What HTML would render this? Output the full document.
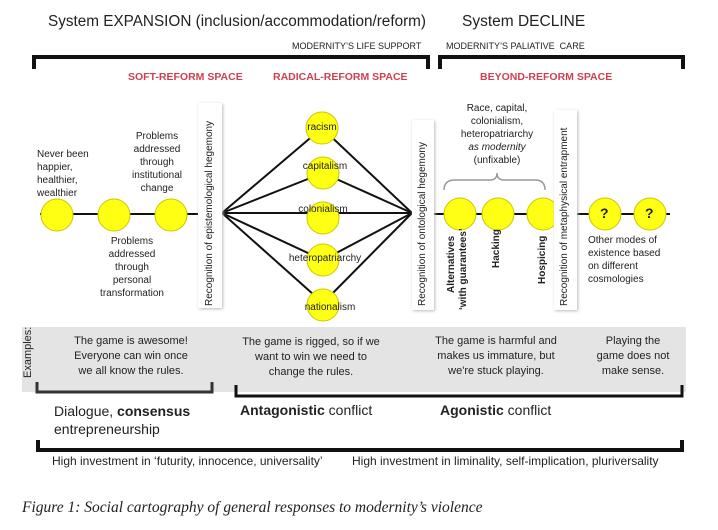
<!DOCTYPE html>
<html><head><meta charset="utf-8"><style>
body{margin:0;background:#fff;}
#c{position:relative;width:718px;height:530px;overflow:hidden;font-family:"Liberation Sans",sans-serif;color:#222;}
.t{position:absolute;white-space:nowrap;}
.cen{text-align:center;transform:translateX(-50%);}
.s{font-size:10px;line-height:13px;}
.red{color:#d0404f;font-weight:bold;font-size:10.5px;}
.bar{position:absolute;background:#fff;box-shadow:1px 1px 3px #bbb;}
.vt{position:absolute;transform:rotate(-90deg);transform-origin:0 0;white-space:nowrap;font-size:10px;line-height:12px;}
</style></head><body><div id="c">
<svg width="718" height="530" style="position:absolute;left:0;top:0">
<g fill="none" stroke="#111" stroke-width="4">
<path d="M34 69 V57 H428 V69"/>
<path d="M440 69 V57 H683 V69"/>
</g>
<rect x="22" y="327" width="664" height="65" fill="#e4e4e4"/>
<g fill="none" stroke="#111" stroke-width="3">
<path d="M37 382 V392 H212 V382" stroke="#333"/>
<path d="M236 385 V396 H682 V385"/>
<path d="M38 440 V450 H682 V440" stroke-width="4"/>
</g>
<g stroke="#111" stroke-width="2">
<line x1="40" y1="214" x2="200" y2="214"/>
<line x1="222" y1="213" x2="412" y2="213"/>
<line x1="222" y1="213" x2="322" y2="128"/>
<line x1="222" y1="213" x2="323" y2="173"/>
<line x1="222" y1="213" x2="323" y2="260"/>
<line x1="222" y1="213" x2="323" y2="303"/>
<line x1="322" y1="128" x2="412" y2="213"/>
<line x1="323" y1="173" x2="412" y2="213"/>
<line x1="323" y1="260" x2="412" y2="213"/>
<line x1="323" y1="303" x2="412" y2="213"/>
<line x1="433" y1="214" x2="556" y2="214"/>
<line x1="577" y1="214" x2="670" y2="214"/>
</g>
<path d="M444 190 Q444 180 455 180 H490 Q497 180 497 173 Q497 180 504 180 H535 Q545 180 545 190" fill="none" stroke="#999" stroke-width="1.5"/>
<g fill="#ffff14" stroke="#c8c800" stroke-width="1">
<circle cx="57" cy="215" r="16"/><circle cx="114" cy="215" r="16"/><circle cx="171" cy="215" r="16"/>
<circle cx="322" cy="128" r="16"/><circle cx="323" cy="173" r="16"/><circle cx="323" cy="218" r="16"/><circle cx="323" cy="260" r="16"/><circle cx="323" cy="305" r="16"/>
<circle cx="460" cy="214" r="16"/><circle cx="498" cy="214" r="16"/><circle cx="543" cy="214" r="16"/>
<circle cx="605" cy="214" r="16"/><circle cx="650" cy="214" r="16"/>
</g>
</svg>
<div class="t" style="left:48px;top:13px;font-size:15.3px">System EXPANSION (inclusion/accommodation/reform)</div>
<div class="t" style="left:462px;top:13px;font-size:15.5px">System DECLINE</div>
<div class="t" style="left:292px;top:41px;font-size:9px">MODERNITY’S LIFE SUPPORT</div>
<div class="t" style="left:446px;top:41px;font-size:9px">MODERNITY’S PALIATIVE&nbsp; CARE</div>
<div class="t red" style="left:128px;top:71px">SOFT-REFORM SPACE</div>
<div class="t red" style="left:273px;top:71px">RADICAL-REFORM SPACE</div>
<div class="t red" style="left:480px;top:71px">BEYOND-REFORM SPACE</div>
<div class="t s" style="left:37px;top:148px">Never been<br>happier,<br>healthier,<br>wealthier</div>
<div class="t s cen" style="left:157px;top:130px">Problems<br>addressed<br>through<br>institutional<br>change</div>
<div class="t s cen" style="left:132px;top:235px">Problems<br>addressed<br>through<br>personal<br>transformation</div>
<div class="bar" style="left:198px;top:103px;width:24px;height:205px"></div>
<div class="bar" style="left:412px;top:120px;width:22px;height:190px"></div>
<div class="bar" style="left:554px;top:110px;width:23px;height:200px"></div>
<div class="vt" style="left:204px;top:306px">Recognition of epistemological hegemony</div>
<div class="vt" style="left:417px;top:306px">Recognition of ontological hegemony</div>
<div class="vt" style="left:559px;top:306px">Recognition of metaphysical entrapment</div>
<div class="t s cen" style="left:322px;top:121px">racism</div>
<div class="t s cen" style="left:325px;top:160px">capitalism</div>
<div class="t s cen" style="left:323px;top:203px">colonialism</div>
<div class="t s cen" style="left:325px;top:252px">heteropatriarchy</div>
<div class="t s cen" style="left:330px;top:301px">nationalism</div>
<div class="t s cen" style="left:497px;top:102px">Race, capital,<br>colonialism,<br>heteropatriarchy<br><i>as modernity</i><br>(unfixable)</div>
<div class="vt" style="left:446px;top:293px;font-weight:bold">Alternatives</div>
<div class="vt" style="left:458px;top:310px;font-weight:bold">‘with guarantees’</div>
<div class="vt" style="left:491px;top:268px;font-weight:bold">Hacking</div>
<div class="vt" style="left:537px;top:284px;font-weight:bold">Hospicing</div>
<div class="t" style="left:600px;top:205px;font-weight:bold;font-size:14px">?</div>
<div class="t" style="left:645px;top:205px;font-weight:bold;font-size:14px">?</div>
<div class="t s" style="left:588px;top:234px">Other modes of<br>existence based<br>on different<br>cosmologies</div>
<div class="vt" style="left:22px;top:378px;font-size:11px">Examples:</div>
<div class="t cen" style="left:131px;top:334px;font-size:11px;line-height:15px">The game is awesome!<br>Everyone can win once<br>we all know the rules.</div>
<div class="t cen" style="left:311px;top:335px;font-size:11px;line-height:15px">The game is rigged, so if we<br>want to win we need to<br>change the rules.</div>
<div class="t cen" style="left:496px;top:334px;font-size:11px;line-height:15px">The game is harmful and<br>makes us immature, but<br>we're stuck playing.</div>
<div class="t cen" style="left:633px;top:334px;font-size:11px;line-height:15px">Playing the<br>game does not<br>make sense.</div>
<div class="t" style="left:54px;top:402px;font-size:14px;line-height:18px">Dialogue, <b>consensus</b><br>entrepreneurship</div>
<div class="t" style="left:240px;top:402px;font-size:14px"><b>Antagonistic</b> conflict</div>
<div class="t" style="left:440px;top:402px;font-size:14px"><b>Agonistic</b> conflict</div>
<div class="t" style="left:52px;top:454px;font-size:12px">High investment in ‘futurity, innocence, universality’</div>
<div class="t" style="left:352px;top:454px;font-size:12px">High investment in liminality, self-implication, pluriversality</div>
<div class="t" style="left:22px;top:499px;font-size:15.5px;font-family:'Liberation Serif',serif;font-style:italic">Figure 1: Social cartography of general responses to modernity’s violence</div>
</div></body></html>
